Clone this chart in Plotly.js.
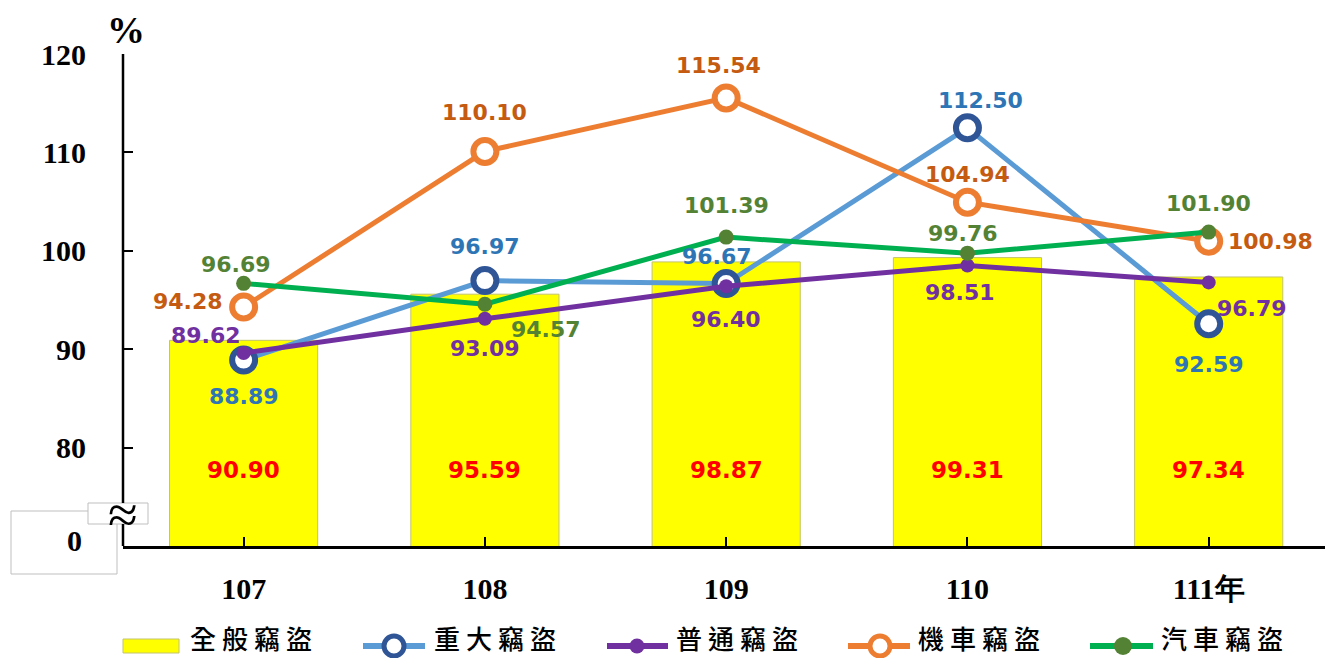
<!DOCTYPE html>
<html><head><meta charset="utf-8">
<script src="https://cdn.plot.ly/plotly-3.0.1.min.js"></script>
<style>html,body{margin:0;padding:0;background:#fff;}#chart{width:1325px;height:658px;}</style>
</head><body><div id="chart"></div>
<script>
// ---- data ----
const years = ['107', '108', '109', '110', '111年'];
const seriesNames = ['全般竊盜', '重大竊盜', '普通竊盜', '機車竊盜', '汽車竊盜'];
const general = [90.90, 95.59, 98.87, 99.31, 97.34];      // 全般竊盜
const major   = [88.89, 96.97, 96.67, 112.50, 92.59];     // 重大竊盜
const ordinary= [89.62, 93.09, 96.40, 98.51, 96.79];      // 普通竊盜
const moto    = [94.28, 110.10, 115.54, 104.94, 100.98];  // 機車竊盜
const car     = [96.69, 94.57, 101.39, 99.76, 101.90];    // 汽車竊盜
const yTickVals = [80, 90, 100, 110, 120];
const yTickText = ['80', '90', '100', '110', '120'];

// ---- label offsets (px) ----
const majorOff = [[0,-36],[0,34],[-9,27],[13,27],[0,-41]];
const ordOff   = [[-38,17],[0,-30],[0,-33],[-7,-27],[43,-26]];
const motoOff  = [[-56,6],[0,39],[-8,32],[0,28],[62,0]];
const carOff   = [[-8,19],[61,-25],[0,32],[-4,20],[0,29]];

const xIdx = years.map((_, i) => i);
const labelFont = (c) => ({family: 'DejaVu Sans', size: 22, color: c, weight: 'bold'});

const C = {
  bar: '#ffff00', barLine: 'rgb(195,195,110)',
  majorLine: '#5b9bd5', majorMk: '#2f5597',
  ord: '#7030a0',
  moto: '#ed7d31',
  carLine: '#00b050', carMk: '#548235'
};

const traces = [
  {type: 'bar', name: seriesNames[0], x: xIdx, y: general, width: 0.614,
   marker: {color: C.bar, line: {color: C.barLine, width: 1}}, hoverinfo: 'skip'},
  {type: 'scatter', mode: 'lines+markers', name: seriesNames[1], x: xIdx, y: major,
   line: {color: C.majorLine, width: 5},
   marker: {symbol: 'circle', size: 23, color: '#ffffff', line: {color: C.majorMk, width: 6}}, cliponaxis: false},
  {type: 'scatter', mode: 'lines+markers', name: seriesNames[2], x: xIdx, y: ordinary,
   line: {color: C.ord, width: 5},
   marker: {symbol: 'circle', size: 14, color: C.ord}, cliponaxis: false},
  {type: 'scatter', mode: 'lines+markers', name: seriesNames[3], x: xIdx, y: moto,
   line: {color: C.moto, width: 5},
   marker: {symbol: 'circle', size: 23, color: '#ffffff', line: {color: C.moto, width: 6}}, cliponaxis: false},
  {type: 'scatter', mode: 'lines+markers', name: seriesNames[4], x: xIdx, y: car,
   line: {color: C.carLine, width: 5},
   marker: {symbol: 'circle', size: 15, color: C.carMk}, cliponaxis: false}
];

const annotations = [];
function addLabels(vals, offs, color) {
  vals.forEach((v, i) => annotations.push({
    x: i, y: v, xref: 'x', yref: 'y', text: v.toFixed(2), showarrow: false,
    xanchor: 'center', yanchor: 'middle',
    xshift: offs[i][0], yshift: offs[i][1], font: labelFont(color)
  }));
}
addLabels(major, majorOff, '#2e75b6');
addLabels(ordinary, ordOff, '#7030a0');
addLabels(moto, motoOff, '#c55a11');
addLabels(car, carOff, '#548235');

const serifBold = {family: 'Liberation Serif', size: 30, color: '#000', weight: 'bold'};
const P = (px) => (px - 123) / 1202;
const Q = (py) => (546 - py) / 492;

general.forEach((v, i) => annotations.push({
  x: i, y: Q(470), xref: 'x', yref: 'paper', text: v.toFixed(2), showarrow: false,
  xanchor: 'center', yanchor: 'middle',
  font: {family: 'DejaVu Sans', size: 23, color: '#ff0000', weight: 'bold'}
}));

annotations.push({x: P(126), y: Q(30), xref: 'paper', yref: 'paper', text: '%', showarrow: false,
  xanchor: 'center', yanchor: 'middle', font: {family: 'Liberation Serif', size: 38, color: '#000', weight: 'bold'}});
annotations.push({x: P(84), y: Q(540), xref: 'paper', yref: 'paper', text: '0', showarrow: false,
  xanchor: 'right', yanchor: 'middle', font: serifBold});
annotations.push({x: P(123), y: Q(515), xref: 'paper', yref: 'paper', text: '≈', showarrow: false,
  xanchor: 'center', yanchor: 'middle', font: {family: 'Liberation Serif', size: 54, color: '#000'}});

const shapes = [
  {type: 'rect', xref: 'paper', yref: 'paper', x0: P(11), x1: P(117), y0: Q(574), y1: Q(511),
   fillcolor: '#ffffff', line: {color: '#bfbfbf', width: 1}, layer: 'below'},
  {type: 'rect', xref: 'paper', yref: 'paper', x0: P(88), x1: P(148), y0: Q(524), y1: Q(503),
   fillcolor: '#ffffff', line: {color: '#bfbfbf', width: 1}, layer: 'below'},
  {type: 'line', xref: 'paper', yref: 'paper', x0: 0, x1: 0, y0: Q(503), y1: 1, line: {color: '#000', width: 2.5}},
  {type: 'line', xref: 'paper', yref: 'paper', x0: 0, x1: 0, y0: 0, y1: Q(524), line: {color: '#000', width: 2.5}}
];

// ---- manual legend ----
const legY = 646;
const legTextCX = [254, 498, 740, 982, 1225];
shapes.push({type: 'rect', xref: 'paper', yref: 'paper', x0: P(123), x1: P(179), y0: Q(653), y1: Q(639),
  fillcolor: C.bar, line: {color: C.barLine, width: 1}});
function legLine(x0, x1, color) {
  shapes.push({type: 'line', xref: 'paper', yref: 'paper', x0: P(x0), x1: P(x1), y0: Q(legY), y1: Q(legY),
    line: {color: color, width: 6}});
}
function legDot(cx, r, fill, lineColor, lw) {
  shapes.push({type: 'circle', xref: 'paper', yref: 'paper', xsizemode: 'pixel', ysizemode: 'pixel',
    xanchor: P(cx), yanchor: Q(legY), x0: -r, x1: r, y0: -r, y1: r,
    fillcolor: fill, line: {color: lineColor, width: lw}});
}
legLine(363, 425, C.majorLine); legDot(394, 10, '#ffffff', C.majorMk, 5);
legLine(607, 668, C.ord);       legDot(637, 7.5, C.ord, C.ord, 0);
legLine(848, 910, C.moto);      legDot(880, 10, '#ffffff', C.moto, 5);
legLine(1090, 1153, C.carLine); legDot(1123, 9, C.carMk, C.carMk, 0);
seriesNames.forEach((n, i) => annotations.push({
  x: P(legTextCX[i]), y: Q(657.5), xref: 'paper', yref: 'paper', xanchor: 'center', yanchor: 'bottom',
  text: n, showarrow: false, font: {family: 'Noto Sans CJK TC', size: 26, color: '#000', weight: 500}
}));

const layout = {
  width: 1325, height: 658,
  margin: {l: 123, r: 0, t: 54, b: 112},
  paper_bgcolor: '#fff', plot_bgcolor: '#fff',
  showlegend: false,
  xaxis: {range: [-0.5, 4.482], tickmode: 'array', tickvals: xIdx, ticktext: years,
          showline: true, linecolor: '#000', linewidth: 2.5, showgrid: false, zeroline: false,
          ticks: 'inside', tickson: 'boundaries', ticklen: 9, tickwidth: 2, tickcolor: '#000',
          tickfont: serifBold, ticklabelstandoff: 14, automargin: false},
  yaxis: {range: [70, 120], tickmode: 'array', tickvals: yTickVals, ticktext: yTickText,
          showline: false, showgrid: false, zeroline: false,
          ticks: 'inside', ticklen: 10, tickwidth: 2, tickcolor: '#000',
          tickfont: serifBold, ticklabelstandoff: 36, automargin: false},
  annotations: annotations,
  shapes: shapes,
  bargap: 0.386
};

Plotly.newPlot('chart', traces, layout, {displayModeBar: false, staticPlot: true}).then(() => {
  document.querySelectorAll('.annotation-text').forEach(t => {
    if (seriesNames.includes(t.textContent)) t.setAttribute('letter-spacing', '6');
  });
});
</script></body></html>
